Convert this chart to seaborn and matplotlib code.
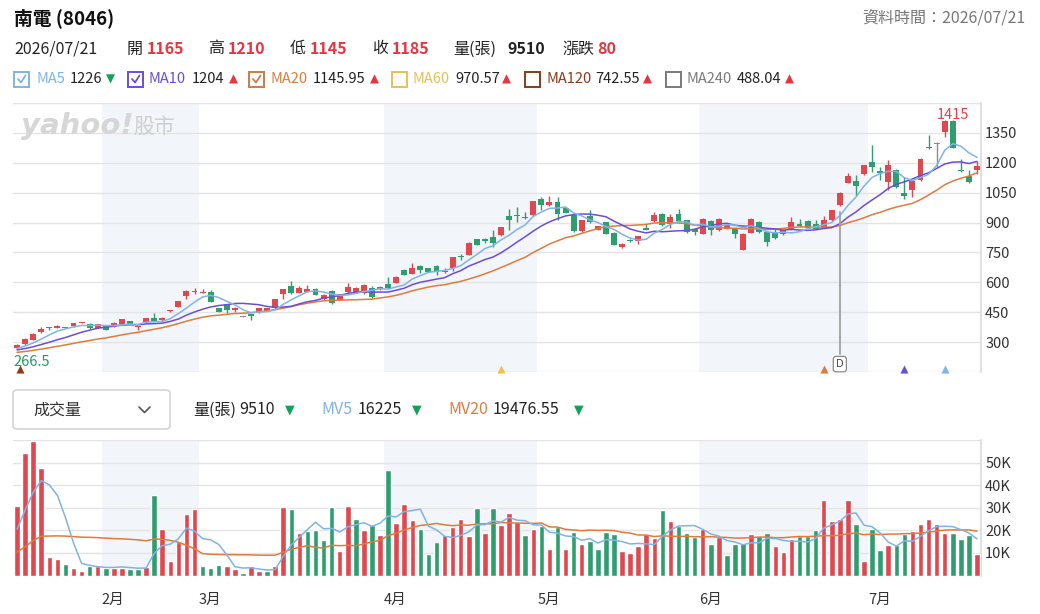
import numpy as np
import pandas as pd
import seaborn as sns
import matplotlib.pyplot as plt
from matplotlib.patches import Rectangle, FancyBboxPatch
from matplotlib.lines import Line2D
from matplotlib.transforms import blended_transform_factory

sns.set_theme(style="white")
plt.rcParams["font.family"] = ["Noto Sans CJK TC", "DejaVu Sans"]

# daily OHLC (120 sessions, 2026/01 .. 2026/07/21)
opens = [270, 290, 312, 350, 375, 372, 374, 380, 398, 392,
         372, 383, 380, 392, 405, 378, 400, 423, 410, 455,
         478, 530, 552, 550, 553, 470, 490, 462, 428, 440,
         450, 458, 470, 540, 582, 548, 553, 567, 517, 557,
         512, 550, 548, 545, 570, 565, 590, 598, 662, 642,
         683, 670, 682, 655, 670, 733, 737, 815, 815, 828,
         837, 933, 938, 930, 937, 1020, 987, 1003, 973, 940,
         857, 932, 865, 903, 850, 775, 812, 808, 873, 908,
         945, 895, 945, 912, 870, 845, 908, 862, 870, 870,
         762, 850, 903, 853, 853, 842, 865, 895, 908, 895,
         875, 912, 987, 1098, 1108, 1142, 1203, 1158, 1103, 1162,
         1048, 1065, 1112, 1278, 1297, 1353, 1408, 1160, 1132, 1165]
highs = [292, 322, 347, 378, 377, 386, 376, 398, 402, 395,
         392, 386, 400, 417, 408, 382, 422, 448, 425, 464,
         509, 560, 570, 567, 562, 473, 493, 475, 430, 442,
         472, 472, 517, 567, 607, 580, 587, 570, 540, 560,
         542, 595, 575, 592, 583, 580, 628, 630, 665, 695,
         686, 673, 685, 670, 728, 740, 800, 818, 822, 865,
         880, 970, 978, 953, 1007, 1028, 1033, 1028, 976, 942,
         914, 965, 884, 905, 852, 795, 815, 835, 893, 955,
         948, 945, 970, 915, 873, 925, 912, 925, 895, 873,
         848, 925, 910, 857, 867, 865, 928, 920, 912, 915,
         935, 965, 1055, 1147, 1137, 1190, 1287, 1178, 1213, 1170,
         1128, 1110, 1222, 1337, 1303, 1412, 1415, 1220, 1162, 1210]
lows = [266.5, 286, 310, 348, 362, 370, 371, 378, 396, 368,
        370, 360, 378, 390, 390, 362, 398, 405, 408, 453,
        476, 515, 540, 548, 500, 450, 445, 450, 426, 412,
        448, 455, 468, 515, 543, 545, 550, 535, 514, 493,
        510, 548, 545, 543, 522, 562, 568, 596, 635, 640,
        648, 650, 637, 648, 657, 712, 735, 785, 797, 775,
        835, 862, 905, 920, 935, 962, 985, 912, 946, 855,
        855, 900, 862, 843, 785, 770, 800, 790, 862, 905,
        885, 875, 905, 850, 837, 843, 840, 860, 868, 820,
        760, 848, 850, 780, 818, 840, 862, 880, 873, 868,
        873, 910, 985, 1096, 1033, 1140, 1153, 1112, 1063, 1075,
        1020, 1027, 1110, 1270, 1178, 1330, 1273, 1155, 1097, 1145]
closes = [288, 318, 343, 365, 372, 383, 373, 395, 400, 372,
          390, 362, 398, 415, 392, 380, 420, 408, 423, 462,
          507, 557, 557, 553, 503, 453, 462, 470, 428, 430,
          470, 470, 515, 565, 545, 573, 568, 537, 537, 495,
          540, 578, 573, 587, 525, 578, 570, 628, 637, 673,
          662, 653, 653, 658, 725, 730, 798, 787, 808, 795,
          878, 912, 935, 922, 1007, 987, 1003, 945, 948, 857,
          912, 903, 882, 845, 787, 792, 805, 832, 865, 940,
          887, 928, 907, 853, 853, 920, 862, 920, 890, 845,
          845, 920, 853, 803, 820, 862, 903, 882, 875, 870,
          912, 962, 1050, 1132, 1082, 1187, 1178, 1148, 1187, 1078,
          1032, 1107, 1220, 1272, 1297, 1410, 1275, 1157, 1105, 1185]

# volume in thousands of lots, R = up day, G = down day
volumes = [30.7, 54.3, 59.6, 47.8, 8.4, 7.4, 5.2, 3.4, 2.2, 4.4,
           4.4, 3.4, 3.4, 3.4, 3.0, 3.0, 3.7, 35.8, 20.7, 6.2,
           14.8, 27.4, 29.3, 4.0, 3.4, 4.7, 4.4, 3.0, 1.0, 4.0,
           1.9, 2.2, 4.0, 30.3, 29.3, 18.8, 19.5, 20.0, 15.8, 30.3,
           10.8, 30.6, 25.2, 20.0, 22.2, 17.8, 46.6, 23.2, 31.8, 24.4,
           20.7, 9.3, 14.8, 17.8, 21.5, 25.2, 17.3, 29.9, 18.8, 29.9,
           22.2, 27.8, 23.7, 17.8, 20.7, 21.8, 11.8, 21.5, 11.8, 19.2,
           13.8, 15.2, 11.8, 19.2, 18.2, 10.8, 9.9, 12.9, 18.2, 16.7,
           28.9, 24.0, 21.8, 18.8, 17.0, 20.7, 13.8, 17.0, 8.9, 13.8,
           14.5, 18.2, 17.3, 18.8, 12.9, 10.4, 16.3, 17.3, 17.3, 20.3,
           33.3, 24.0, 25.2, 33.3, 22.6, 6.2, 20.7, 11.4, 13.3, 13.3,
           18.2, 19.7, 22.6, 25.2, 22.6, 19.0, 18.8, 16.0, 17.8, 9.51]
vol_dir = ("RRRRRRGRRGRGRRGGRGRRRRRGGGRRGRRGRRGRGGGGRR"
           "GRGRGRRRGGGRRRRGRGRRRGRGRGRGRGGGGRRRRRGRGGG"
           "RGRGGGRGGRRRGGGRRRRGRGGRGGRRRRRGGGR")

# sessions before the window (estimated, only feed the moving averages)
prior_closes = [232, 234, 235, 237, 238, 239, 240, 241, 242, 242,
                250, 252, 254, 256, 258, 262, 264, 267, 269]
prior_volumes = [7, 6, 8, 7, 6, 7, 8, 7, 6, 7, 8, 7, 6, 7, 8, 12, 20, 22, 17.6]

month_starts = [11, 23, 46, 65, 85, 106]
month_labels = ["2月", "3月", "4月", "5月", "6月", "7月"]
shaded = [(11, 22), (46, 64), (85, 105)]

UP = "#e0474f"
DN = "#2f9e6e"
C_MA5 = "#80b3e8"
C_MA10 = "#6a4fd3"
C_MA20 = "#e07b3c"

n = len(closes)
idx = np.arange(n)
o = np.array(opens, float)
c = np.array(closes, float)
h = np.array(highs, float)
l = np.array(lows, float)

full_c = pd.Series(prior_closes + closes, dtype=float)
ma5 = full_c.rolling(5).mean().values[-n:]
ma10 = full_c.rolling(10).mean().values[-n:]
ma20 = full_c.rolling(20).mean().values[-n:]
full_v = pd.Series(prior_volumes + volumes, dtype=float) * 1000
mv5 = full_v.rolling(5).mean().values[-n:]
mv20 = full_v.rolling(20).mean().values[-n:]

W, H = 1040, 614
fig = plt.figure(figsize=(W / 100, H / 100), dpi=100)


def fx(px):
    return px / W


def fy(py):
    return 1 - py / H


def ftext(x, y, s, **kw):
    kw.setdefault("va", "center")
    kw.setdefault("ha", "left")
    fig.text(fx(x), fy(y), s, **kw)


ax = fig.add_axes([fx(13), fy(372.3), fx(981) - fx(13), fy(102.7) - fy(372.3)])
axv = fig.add_axes([fx(13), fy(575.5), fx(981) - fx(13), fy(440) - fy(575.5)])

for a in (ax, axv):
    for s0, s1 in shaded:
        a.axvspan(s0 - 0.5, s1 + 0.5, color="#f2f5f9", zorder=0, lw=0)
    for sp in ("top", "left", "bottom"):
        a.spines[sp].set_visible(False)
    a.spines["right"].set_color("#dcdcdc")
    a.set_xlim(-0.5, n - 0.5)
    a.set_xticks([])
    a.yaxis.tick_right()
    a.tick_params(axis="y", length=0, pad=3, labelsize=10.5, labelcolor="#333333")

# price panel
for v in range(150, 1501, 150):
    ax.axhline(v, color="#e4e4e4", lw=1, zorder=1)
cols = [UP if cc > oo else (DN if cc < oo else "#8c8c8c") for oo, cc in zip(o, c)]
ax.vlines(idx, l, h, colors=cols, lw=1, zorder=3)
body = np.maximum(np.abs(c - o), 5)
bottom = np.minimum(o, c) - (body - np.abs(c - o)) / 2
ax.bar(idx, body, bottom=bottom, width=0.74, color=cols, lw=0, zorder=4)

sns.lineplot(x=idx, y=ma20, ax=ax, color=C_MA20, lw=1.1, zorder=5)
sns.lineplot(x=idx, y=ma10, ax=ax, color=C_MA10, lw=1.1, zorder=5)
sns.lineplot(x=idx, y=ma5, ax=ax, color=C_MA5, lw=1.1, zorder=5)

ax.set_ylim(150, 1500)
ax.set_yticks(range(300, 1351, 150))
ax.set_xlim(-0.5, n - 0.5)
ax.set_xlabel("")
ax.set_ylabel("")

# highest / lowest labels
hi = int(np.argmax(h))
ax.text(hi, 1436, f"{h[hi]:g}", color="#e8434c", ha="center", va="center", fontsize=10.5, zorder=6)
ax.text(-0.5, 203, f"{l[0]:g}", color="#1f9e5e", ha="left", va="center", fontsize=10.5, zorder=6)

# signal markers along the bottom
for mi, mc in [(0.4, "#8b3a1a"), (60, "#f0c24d"), (100, "#e07b3c"), (110, "#6a4fd3"), (115, "#80b3e8")]:
    ax.scatter([mi], [166], marker="^", s=34, color=mc, zorder=6, clip_on=False, lw=0)

# dividend marker
ax.plot([102, 102], [951, 240], color="#a0a0a0", lw=1.3, zorder=6)
ax.text(102, 191, "D", ha="center", va="center", fontsize=7, color="#444444", zorder=7,
        family="DejaVu Sans",
        bbox=dict(boxstyle="round,pad=0.28", fc="white", ec="#8a8a8a", lw=0.9))

# watermark
ftext(21, 126, "yahoo!", fontsize=21, fontweight="heavy", fontstyle="italic",
      color="#d6d6d6", family="DejaVu Sans")
ftext(133, 127, "股市", fontsize=15, color="#cfcfcf")

# volume panel
for v in range(0, 60001, 10000):
    axv.axhline(v, color="#e4e4e4", lw=1, zorder=1)
vdf = pd.DataFrame({"i": idx, "v": np.array(volumes) * 1000, "d": list(vol_dir)})
sns.barplot(data=vdf, x="i", y="v", hue="d", palette={"R": UP, "G": DN}, native_scale=True,
            dodge=False, width=0.68, saturation=1, errorbar=None, legend=False, ax=axv, zorder=3)
sns.lineplot(x=idx, y=mv20, ax=axv, color=C_MA20, lw=1.1, zorder=5)
sns.lineplot(x=idx, y=mv5, ax=axv, color=C_MA5, lw=1.1, zorder=5)
axv.set_ylim(0, 60000)
axv.set_yticks(range(10000, 50001, 10000))
axv.set_yticklabels([f"{k}K" for k in range(10, 51, 10)])
axv.set_xlim(-0.5, n - 0.5)
axv.set_xticks([])
axv.set_xlabel("")
axv.set_ylabel("")

tr = blended_transform_factory(axv.transData, fig.transFigure)
for ms, ml in zip(month_starts, month_labels):
    axv.text(ms - 0.5, fy(600), ml, transform=tr, ha="left", va="center", fontsize=10.5, color="#333333")

# header
ftext(14, 18, "南電 (8046)", fontsize=13.5, fontweight="bold", color="#111111")
ftext(1025, 18, "資料時間：2026/07/21", ha="right", fontsize=11.5, color="#777777")

RED = "#e8343e"
ftext(14, 49, "2026/07/21", fontsize=11.5, color="#222222")
for x, lab, xv, val in [(127, "開", 147, "1165"), (208, "高", 228, "1210"),
                        (290, "低", 310, "1145"), (372, "收", 392, "1185")]:
    ftext(x, 49, lab, fontsize=11.5, color="#222222")
    ftext(xv, 49, val, fontsize=11.5, fontweight="bold", color=RED)
ftext(453, 49, "量(張)", fontsize=11.5, color="#222222")
ftext(507, 49, "9510", fontsize=11.5, fontweight="bold", color="#222222")
ftext(562, 49, "漲跌", fontsize=11.5, color="#222222")
ftext(597, 49, "80", fontsize=11.5, fontweight="bold", color=RED)

# moving average legend row: box x, name, name x, value, value x, triangle x, up?, colour, checked
legend_items = [
    (14, "MA5", 36, "1226", 70, 106, False, C_MA5, True),
    (128, "MA10", 149, "1204", 192, 229, True, C_MA10, True),
    (249, "MA20", 271, "1145.95", 313, 370, True, "#cc7a4e", True),
    (392, "MA60", 413, "970.57", 455, 502, True, "#e8c05a", False),
    (525, "MA120", 546, "742.55", 595, 643, True, "#8b3a1a", False),
    (666, "MA240", 687, "488.04", 737, 785, True, "#7a7a7a", False),
]
yl = 79
for bx, name, nx, val, vx, tx, up, colr, checked in legend_items:
    fig.add_artist(Rectangle((fx(bx), fy(yl + 7.5)), 15 / W, 15 / H, transform=fig.transFigure,
                             fc="white", ec=colr, lw=1.4))
    if checked:
        fig.add_artist(Line2D([fx(bx + 4), fx(bx + 7), fx(bx + 11.5)], [fy(yl), fy(yl + 3.5), fy(yl - 3.5)],
                              transform=fig.transFigure, color=colr, lw=1.3))
    ftext(nx, yl, name, fontsize=10.5, color=C_MA20 if name == "MA20" else colr)
    ftext(vx, yl, val, fontsize=10.5, color="#222222")
    ftext(tx, yl, "▲" if up else "▼", fontsize=8.5, color=RED if up else "#12a15a", family="DejaVu Sans")

# volume header
fig.add_artist(FancyBboxPatch((fx(13), fy(429)), fx(170) - fx(13), fy(390) - fy(429),
                              boxstyle="round,pad=0,rounding_size=0.005", transform=fig.transFigure,
                              fc="white", ec="#d4d4d4", lw=1.2))
ftext(33, 410, "成交量", fontsize=11.5, color="#333333")
fig.add_artist(Line2D([fx(139), fx(144.5), fx(150)], [fy(407), fy(412.5), fy(407)],
                      transform=fig.transFigure, color="#555555", lw=1.2))
ftext(193, 410, "量(張)", fontsize=11.5, color="#222222")
ftext(239, 410, "9510", fontsize=11.5, color="#222222")
ftext(285, 410, "▼", fontsize=9, color="#12a15a", family="DejaVu Sans")
ftext(321, 410, "MV5", fontsize=11.5, color=C_MA5)
ftext(358, 410, "16225", fontsize=11.5, color="#222222")
ftext(412, 410, "▼", fontsize=9, color="#12a15a", family="DejaVu Sans")
ftext(448, 410, "MV20", fontsize=11.5, color=C_MA20)
ftext(493, 410, "19476.55", fontsize=11.5, color="#222222")
ftext(574, 410, "▼", fontsize=9, color="#12a15a", family="DejaVu Sans")

fig.savefig("out.png", dpi=100, facecolor="white")
